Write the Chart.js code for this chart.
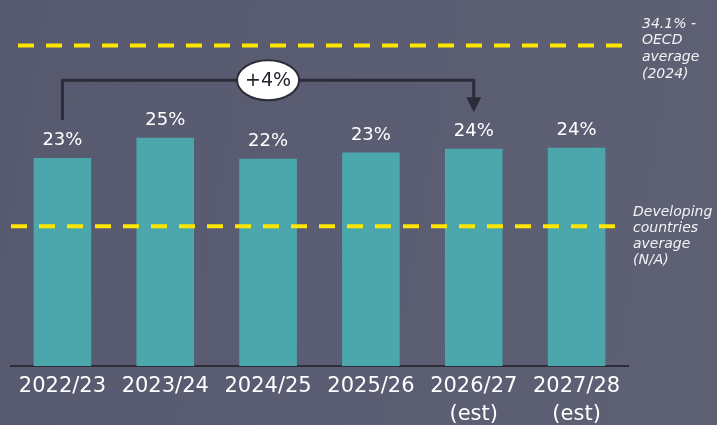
<!DOCTYPE html>
<html>
<head>
<meta charset="utf-8">
<script src="https://cdn.jsdelivr.net/npm/chart.js@4"></script>
<style>
  html, body { margin: 0; padding: 0; }
  body {
    width: 717px; height: 425px; overflow: hidden;
    background: linear-gradient(100deg, #575a6e 0%, #5b5d72 55%, #5e6074 100%);
  }
  #wrap { position: relative; width: 717px; height: 425px; }
</style>
</head>
<body>
<div id="wrap"><canvas id="taxChart"></canvas></div>
<script>
// -----------------------
// Data
// -----------------------
const years = [['2022/23'], ['2023/24'], ['2024/25'], ['2025/26'], ['2026/27', '(est)'], ['2027/28', '(est)']];
const ratioValues = [22.8, 25.0, 22.7, 23.4, 23.8, 23.9];   // bar heights
const ratioLabels = ['23%', '25%', '22%', '23%', '24%', '24%'];
const oecdLevel = 35.1;        // dashed line position
const developingLevel = 15.3;  // dashed line position
const oecdText = ['34.1% -', 'OECD', 'average', '(2024)'];
const developingText = ['Developing', 'countries', 'average', '(N/A)'];
const changeText = '+4%';
const changeFrom = 0, changeTo = 4, changeBadgeAt = 2;
const bracketLevel = 31.3;

const FONT = '"DejaVu Sans", sans-serif';

// -----------------------
// Overlay plugin: value labels, reference lines, bracket
// -----------------------
const overlay = {
  id: 'overlay',
  afterDatasetsDraw(chart) {
    const { ctx, chartArea, scales: { x, y } } = chart;
    const bars = chart.getDatasetMeta(0).data;

    ctx.save();

    // value labels above bars
    ctx.fillStyle = '#ffffff';
    ctx.font = '18px ' + FONT;
    ctx.textAlign = 'center';
    ctx.textBaseline = 'middle';
    bars.forEach((b, i) => ctx.fillText(ratioLabels[i], b.x, b.y - 17.5));

    // dashed reference lines
    ctx.strokeStyle = '#ffe600';
    ctx.lineWidth = 4;
    ctx.setLineDash([16, 12]);
    const oy = y.getPixelForValue(oecdLevel);
    ctx.lineDashOffset = 0;
    ctx.beginPath(); ctx.moveTo(chartArea.left + 7, oy); ctx.lineTo(chartArea.right - 5, oy); ctx.stroke();
    const dy = y.getPixelForValue(developingLevel);
    ctx.beginPath(); ctx.moveTo(chartArea.left, dy); ctx.lineTo(chartArea.right - 10, dy); ctx.stroke();
    ctx.setLineDash([]);

    // side notes
    ctx.fillStyle = '#f2f2f5';
    ctx.font = 'italic 14px ' + FONT;
    ctx.textAlign = 'left';
    oecdText.forEach((t, i) => ctx.fillText(t, chartArea.right + 14, oy - 21.5 + i * 16.6));
    developingText.forEach((t, i) => ctx.fillText(t, chartArea.right + 5, dy - 14 + i * 16));

    // bracket with arrow
    const x1 = bars[changeFrom].x, x2 = bars[changeTo].x;
    const by = y.getPixelForValue(bracketLevel);
    const startY = bars[changeFrom].y - 38;
    const tipY = bars[changeTo].y - 36.5;
    ctx.strokeStyle = '#2b2c38';
    ctx.fillStyle = '#2b2c38';
    ctx.lineWidth = 3;
    ctx.lineJoin = 'round';
    ctx.beginPath();
    ctx.moveTo(x1, startY);
    ctx.lineTo(x1, by);
    ctx.lineTo(x2, by);
    ctx.lineTo(x2, tipY - 12);
    ctx.stroke();
    ctx.beginPath();
    ctx.moveTo(x2 - 7.5, tipY - 15);
    ctx.lineTo(x2 + 7.5, tipY - 15);
    ctx.lineTo(x2, tipY);
    ctx.closePath();
    ctx.fill();

    // badge
    const cx = bars[changeBadgeAt].x;
    ctx.beginPath();
    ctx.ellipse(cx, by, 31, 20, 0, 0, Math.PI * 2);
    ctx.fillStyle = '#ffffff';
    ctx.fill();
    ctx.lineWidth = 2;
    ctx.stroke();
    ctx.fillStyle = '#23242e';
    ctx.font = '19px ' + FONT;
    ctx.textAlign = 'center';
    ctx.fillText(changeText, cx, by + 1);

    ctx.restore();
  }
};

// -----------------------
// Chart
// -----------------------
function initChart() {
  const ctx = document.getElementById('taxChart').getContext('2d');
  new Chart(ctx, {
    type: 'bar',
    data: {
      labels: years,
      datasets: [{
        data: ratioValues,
        backgroundColor: '#4ca7ad',
        borderWidth: 0,
        barPercentage: 0.56,
        categoryPercentage: 1
      }]
    },
    options: {
      responsive: false,
      animation: false,
      devicePixelRatio: 1,
      layout: { padding: { left: 11, right: 89, top: 10, bottom: 0 } },
      plugins: { legend: { display: false }, tooltip: { enabled: false } },
      scales: {
        x: {
          grid: { display: false, drawTicks: false },
          border: { display: true, color: '#2c2d38', width: 2 },
          ticks: {
            color: '#ffffff',
            padding: 7,
            maxRotation: 0,
            autoSkip: false,
            font: { family: FONT, size: 21, lineHeight: '28px' }
          },
          afterFit(scale) { scale.height = 59; }
        },
        y: {
          display: false,
          min: 0,
          max: 39
        }
      }
    },
    plugins: [overlay]
  });
}

const cv = document.getElementById('taxChart');
cv.width = 717; cv.height = 425;
initChart();
</script>
</body>
</html>
